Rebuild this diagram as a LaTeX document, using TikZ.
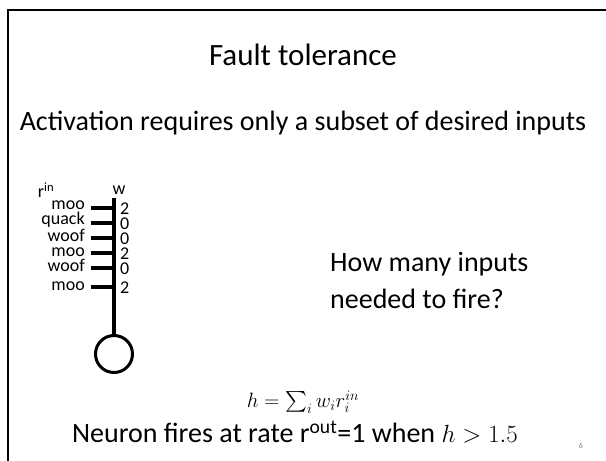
\documentclass[tikz,border=0pt]{standalone}
\usepackage{fontspec}
\setmainfont{Carlito}
\usepackage{amsmath}
\usetikzlibrary{positioning}

\begin{document}
\begin{tikzpicture}[x=1pt,y=-1pt,
    big/.style={font=\fontsize{28}{28}\selectfont, inner sep=0pt},
    body/.style={font=\fontsize{28}{28}\selectfont, inner sep=0pt},
    lab/.style={font=\fontsize{18}{15}\selectfont, inner sep=0pt},
    eqn/.style={font=\fontsize{22}{22}\selectfont, inner sep=0pt},
    syn/.style={line width=4pt}]
    \useasboundingbox (0,0) rectangle (606,461);
    \draw[line width=2pt] (8,461) -- (8,10) -- (606,10);
    \node[font=\fontsize{31}{31}\selectfont, inner sep=0pt] (title) at (303,55) {Fault tolerance};
    \node[body] (sub) at (303,123) {Activation requires only a subset of desired inputs};
    % inputs and weights
    \node[lab] (rin) at (46,190) {r\textsuperscript{in}};
    \node[lab] (wlab) at (119,190) {w};
    \node[lab, align=right, anchor=base east] (words) at (85,290) {moo\\quack\\woof\\moo\\woof\\[4pt]moo};
    \node[lab, align=left, anchor=base west] (wts) at (120,293) {2\\0\\0\\2\\0\\[4pt]2};
    \foreach \y [count=\i] in {208,223,238,253,268,287} {
        \coordinate (s\i) at (114,\y);
        \coordinate (e\i) at (91,\y);
        \draw[syn] (e\i) -- (s\i);
    }
    \node[circle, draw, line width=3pt, minimum size=37pt, inner sep=0pt] (soma) at (114,354) {};
    \coordinate (top) at (114,198);
    \draw[syn] (top) -- (soma.north);
    \node[big, anchor=west] (q1) at (330,264) {How many inputs};
    \node[big, anchor=west] (q2) at (330,299) {needed to fire?};
    \node[eqn] (hdef) at (303,402) {$h=\sum_i w_i r_i^{in}$};
    \node[body] (fire) at (295,432) {Neuron fires at rate r\textsuperscript{out}=1 when $h>1.5$};
    \node[font=\fontsize{8}{8}\selectfont, text=gray] (pg) at (581,446) {6};
\end{tikzpicture}
\end{document}
